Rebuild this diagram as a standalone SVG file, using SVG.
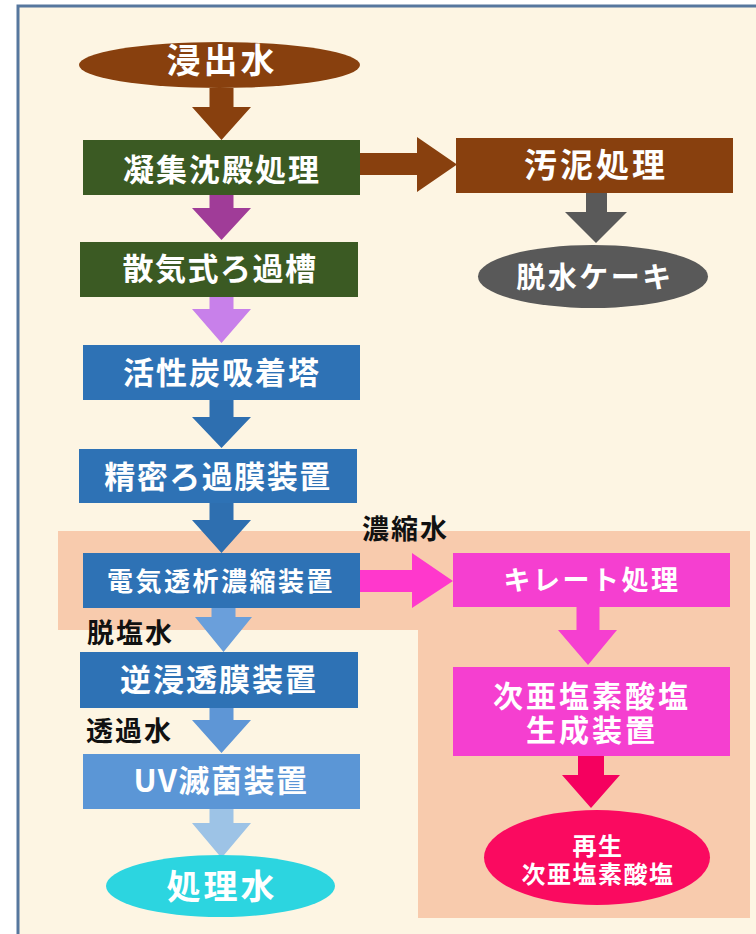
<svg xmlns="http://www.w3.org/2000/svg" width="756" height="934" viewBox="0 0 756 934">
<style>
text{font-family:"Noto Sans CJK JP","Noto Sans CJK SC",sans-serif;font-weight:bold;}
.w{fill:#ffffff;text-anchor:middle;}
.lbl{fill:#111111;font-size:27px;letter-spacing:2px;}
</style>
<rect x="0" y="0" width="756" height="934" fill="#ffffff"/>
<rect x="18" y="6" width="760" height="940" fill="#fdf5e3" stroke="#56779e" stroke-width="3"/>
<polygon points="58,531 750,531 750,918 418,918 418,630 58,630" fill="#f8cbad"/>

<g id="connectors">
  <polygon points="209.5,88 233.5,88 233.5,107 251,107 221.5,140 192,107 209.5,107" fill="#88400e"/>
  <polygon points="209.5,195 233.5,195 233.5,208 251,208 221.5,240 192,208 209.5,208" fill="#a03c98"/>
  <polygon points="209.5,297 233.5,297 233.5,309 251,309 221.5,343 192,309 209.5,309" fill="#c880ea"/>
  <polygon points="209.5,400 233.5,400 233.5,417 251,417 221.5,448 192,417 209.5,417" fill="#2e6fb0"/>
  <polygon points="209.5,503 233.5,503 233.5,520 251,520 221.5,553 192,520 209.5,520" fill="#2e6fb0"/>
  <polygon points="211.5,608 235.5,608 235.5,617 252,617 223.5,652 195,617 211.5,617" fill="#6a9fdb"/>
  <polygon points="209.5,708 233.5,708 233.5,720 251,720 221.5,753 192,720 209.5,720" fill="#5e96d6"/>
  <polygon points="209.5,809 233.5,809 233.5,823 251,823 221.5,858 192,823 209.5,823" fill="#9dc3e6"/>
  <polygon points="360,153 417,153 417,137 457,164.5 417,192 417,175 360,175" fill="#88400e"/>
  <polygon points="586,193 607,193 607,212 627,212 596,243 565,212 586,212" fill="#595959"/>
  <polygon points="360,570 412,570 412,553 453,581 412,608 412,592 360,592" fill="#ff38cc"/>
  <polygon points="576.5,607 599.5,607 599.5,630 617,630 588,665 558,630 576.5,630" fill="#f53fd0"/>
  <polygon points="578,756 604,756 604,775 620,775 591,808 562,775 578,775" fill="#f5005f"/>
</g>

<g id="n-leachate">
  <ellipse cx="219.5" cy="65" rx="140.5" ry="23" fill="#88400e"/>
  <text class="w" x="222" y="73" font-size="34" letter-spacing="3">浸出水</text>
</g>
<g id="n-coag">
  <rect x="83" y="140" width="277" height="55" fill="#3b5a23"/>
  <text class="w" x="222" y="181" font-size="31" letter-spacing="2">凝集沈殿処理</text>
</g>
<g id="n-aer">
  <rect x="80" y="242" width="278" height="55" fill="#3b5a23"/>
  <text class="w" x="220" y="280" font-size="31" letter-spacing="1.5">散気式ろ過槽</text>
</g>
<g id="n-ac">
  <rect x="83" y="345" width="277" height="55" fill="#2e72b5"/>
  <text class="w" x="222" y="384" font-size="31" letter-spacing="2">活性炭吸着塔</text>
</g>
<g id="n-mf">
  <rect x="79" y="449" width="278" height="54" fill="#2e72b5"/>
  <text class="w" x="218" y="488" font-size="31" letter-spacing="1.5">精密ろ過膜装置</text>
</g>
<g id="n-ed">
  <rect x="83" y="553" width="277" height="55" fill="#2e72b5"/>
  <text class="w" x="221" y="591" font-size="26" letter-spacing="2.5">電気透析濃縮装置</text>
</g>
<g id="n-ro">
  <rect x="80" y="652" width="278" height="56" fill="#2e72b5"/>
  <text class="w" x="219" y="691" font-size="31" letter-spacing="2">逆浸透膜装置</text>
</g>
<g id="n-uv">
  <rect x="83" y="754" width="277" height="55" fill="#5b96d6"/>
  <text class="w" x="221" y="792" font-size="31" letter-spacing="1.5">UV滅菌装置</text>
</g>
<g id="n-treated">
  <ellipse cx="220.5" cy="886" rx="114.5" ry="31" fill="#2cd5e0"/>
  <text class="w" x="222" y="899" font-size="34" letter-spacing="3">処理水</text>
</g>
<g id="n-sludge">
  <rect x="456" y="138" width="277" height="55" fill="#88400e"/>
  <text class="w" x="596" y="177" font-size="33" letter-spacing="3">汚泥処理</text>
</g>
<g id="n-cake">
  <ellipse cx="593" cy="276.5" rx="115" ry="31.5" fill="#595959"/>
  <text class="w" x="595" y="288" font-size="29" letter-spacing="2.5">脱水ケーキ</text>
</g>
<g id="n-chelate">
  <rect x="453" y="553" width="277" height="54" fill="#f53fd0"/>
  <text class="w" x="592" y="590" font-size="27" letter-spacing="2.5">キレート処理</text>
</g>
<g id="n-hypo">
  <rect x="453" y="667" width="277" height="89" fill="#f53fd0"/>
  <text class="w" font-size="30" letter-spacing="3"><tspan x="592" y="707">次亜塩素酸塩</tspan><tspan x="592" y="741">生成装置</tspan></text>
</g>
<g id="n-regen">
  <ellipse cx="597" cy="857.5" rx="113" ry="47.5" fill="#fa0a60"/>
  <text class="w" font-size="24" letter-spacing="1.5"><tspan x="598" y="855">再生</tspan><tspan x="598" y="883">次亜塩素酸塩</tspan></text>
</g>
<g id="labels">
  <text class="lbl" x="362" y="539">濃縮水</text>
  <text class="lbl" x="87" y="643">脱塩水</text>
  <text class="lbl" x="86" y="741">透過水</text>
</g>
</svg>
